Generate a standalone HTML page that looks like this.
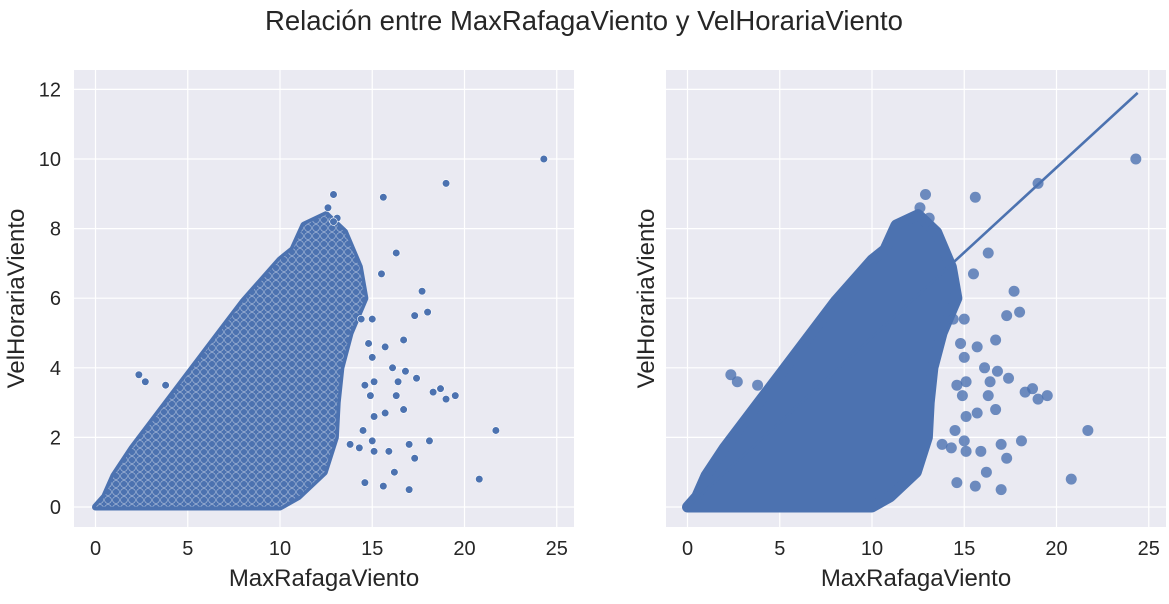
<!DOCTYPE html>
<html><head><meta charset="utf-8"><style>
body{margin:0;background:#fff;}
svg text{font-family:"Liberation Sans",sans-serif;fill:#262626;}
</style></head><body>
<svg id="chart" width="1169" height="599" xmlns="http://www.w3.org/2000/svg">
<defs>
<pattern id="speck" width="8" height="8" patternUnits="userSpaceOnUse">
<circle cx="4" cy="4" r="3.4" fill="none" stroke="#fff" stroke-width="0.6" opacity="0.55"/>
</pattern>
</defs>
<text x="584" y="30" font-size="27.5" text-anchor="middle">Relación entre MaxRafagaViento y VelHorariaViento</text>
</svg>
<script>
// data arrays
const xTicks=[0,5,10,15,20,25];
const yTicks=[0,2,4,6,8,10,12];
const cloudX=[0,0.5,1,2,3,4,5,6,7,8,9,10,10.7,11.3,12.5,13.5,14.3,14.6,13.8,13.3,13.1,13.0,12.4,11,10,0];
const cloudY=[0,0.3,0.9,1.7,2.4,3.1,3.8,4.5,5.2,5.9,6.5,7.1,7.4,8.1,8.4,7.9,6.9,6.0,5.0,4.0,3.0,2.0,1.0,0.3,0,0];
const outX=[24.3,19.0,15.6,12.9,12.6,13.1,12.9,16.3,17.7,17.3,18.0,16.7,15.7,16.1,16.8,17.4,16.4,16.3,18.3,18.7,19.0,19.5,16.7,21.7,15.7,15.1,18.1,17.0,17.3,15.9,15.1,16.2,20.8,17.0,15.6,14.6,14.3,13.8,15.0,14.5,15.1,14.6,14.9,15.0,15.5,15.0,14.4,14.8,2.35,2.7,3.8];
const outY=[10.0,9.3,8.9,8.98,8.6,8.3,8.2,7.3,6.2,5.5,5.6,4.8,4.6,4.0,3.9,3.7,3.6,3.2,3.3,3.4,3.1,3.2,2.8,2.2,2.7,2.6,1.9,1.8,1.4,1.6,1.6,1.0,0.8,0.5,0.6,0.7,1.7,1.8,1.9,2.2,3.6,3.5,3.2,4.3,6.7,5.4,5.4,4.7,3.8,3.6,3.5];
const regX=[0,24.4];
const regY=[0,11.9];

const svg=document.getElementById('chart');
const NS='http://www.w3.org/2000/svg';
function mk(tag,attrs,parent){const e=document.createElementNS(NS,tag);for(const k in attrs)e.setAttribute(k,attrs[k]);(parent||svg).appendChild(e);return e;}

function panel(px,name,reg){
  const L=px, R=px+500, T=70, B=527;
  const x0=px+21.5, xs=18.45, y0=507, ys=34.8;
  const sx=v=>x0+v*xs, sy=v=>y0-v*ys;
  const g=mk('g',{});
  
  
  const bg=mk('rect',{x:L,y:T,width:R-L,height:B-T,fill:'#eaeaf2'},g);
  
  
  xTicks.forEach(t=>{
    const l=mk('line',{x1:sx(t),x2:sx(t),y1:T,y2:B,stroke:'#fff','stroke-width':1.2},g);
    
    
    const tx=mk('text',{x:sx(t),y:B+28,'font-size':20,'text-anchor':'middle'},g);
    tx.textContent=t;
    
    
  });
  yTicks.forEach(t=>{
    const l=mk('line',{x1:L,x2:R,y1:sy(t),y2:sy(t),stroke:'#fff','stroke-width':1.2},g);
    
    
    if(!reg){
      const tx=mk('text',{x:L-13,y:sy(t)+7,'font-size':20,'text-anchor':'end'},g);
      tx.textContent=t;
      
      
    }
  });
  const pts=cloudX.map((v,i)=>sx(v)+','+sy(cloudY[i])).join(' ');
  if(reg){
    const c=mk('polygon',{points:pts,fill:'#4c72b0',stroke:'#4c72b0','stroke-width':11,'stroke-linejoin':'round'},g);
    
    
  }else{
    const c=mk('polygon',{points:pts,fill:'#4c72b0',stroke:'#4c72b0','stroke-width':7,'stroke-linejoin':'round'},g);
    
    
    const p=mk('polygon',{points:pts,fill:'url(#speck)'},g);
    
    
  }
  outX.forEach((v,i)=>{
    const c=reg?mk('circle',{cx:sx(v),cy:sy(outY[i]),r:5.5,fill:'#4c72b0','fill-opacity':0.8},g)
               :mk('circle',{cx:sx(v),cy:sy(outY[i]),r:3.8,fill:'#4c72b0',stroke:'#fff','stroke-width':0.6},g);
    
    
  });
  if(reg){
    const l=mk('line',{x1:sx(regX[0]),y1:sy(regY[0]),x2:sx(regX[1]),y2:sy(regY[1]),stroke:'#4c72b0','stroke-width':2.6},g);
    
    
  }
  const xl=mk('text',{x:(L+R)/2,y:586,'font-size':24,'text-anchor':'middle'},g);
  xl.textContent='MaxRafagaViento';
  
  
  const yx=reg?L-12:L-50;
  const yl=mk('text',{x:yx,y:(T+B)/2,'font-size':24,'text-anchor':'middle',transform:'rotate(-90 '+yx+' '+((T+B)/2)+')'},g);
  yl.textContent='VelHorariaViento';
  
  
}
panel(74,'scatter-panel',false);
panel(666,'regplot-panel',true);
</script>
</body></html>
